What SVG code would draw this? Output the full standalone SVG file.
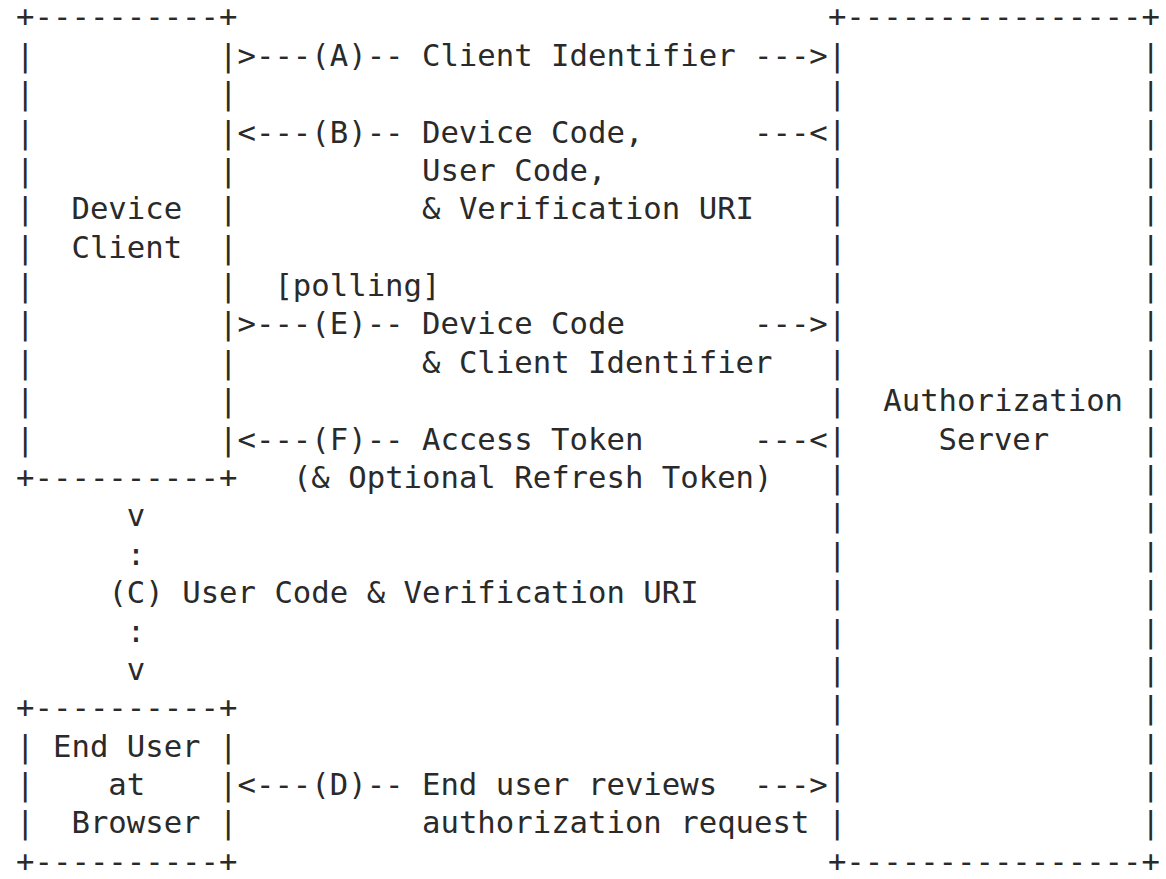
<svg xmlns="http://www.w3.org/2000/svg" width="1166" height="879" viewBox="0 0 1166 879" xml:space="preserve">
<style>
text{font-family:"DejaVu Sans Mono","Liberation Mono",monospace;font-size:30.65px;fill:#2a2a2a;white-space:pre}
</style>
<rect x="0" y="0" width="1166" height="879" fill="#ffffff"/>
<g id="device-client">
<text x="16.1" y="27.4">+----------+</text>
<text x="16.1" y="65.8">|          |</text>
<text x="16.1" y="104.2">|          |</text>
<text x="16.1" y="142.5">|          |</text>
<text x="16.1" y="180.9">|          |</text>
<text x="16.1" y="219.3">|  Device  |</text>
<text x="16.1" y="257.7">|  Client  |</text>
<text x="16.1" y="296.1">|          |</text>
<text x="16.1" y="334.4">|          |</text>
<text x="16.1" y="372.8">|          |</text>
<text x="16.1" y="411.2">|          |</text>
<text x="16.1" y="449.6">|          |</text>
<text x="16.1" y="488.0">+----------+</text>
</g>
<g id="authorization-server">
<text x="827.9" y="27.4">+----------------+</text>
<text x="827.9" y="65.8">|                |</text>
<text x="827.9" y="104.2">|                |</text>
<text x="827.9" y="142.5">|                |</text>
<text x="827.9" y="180.9">|                |</text>
<text x="827.9" y="219.3">|                |</text>
<text x="827.9" y="257.7">|                |</text>
<text x="827.9" y="296.1">|                |</text>
<text x="827.9" y="334.4">|                |</text>
<text x="827.9" y="372.8">|                |</text>
<text x="827.9" y="411.2">|  Authorization |</text>
<text x="827.9" y="449.6">|     Server     |</text>
<text x="827.9" y="488.0">|                |</text>
<text x="827.9" y="526.3">|                |</text>
<text x="827.9" y="564.7">|                |</text>
<text x="827.9" y="603.1">|                |</text>
<text x="827.9" y="641.5">|                |</text>
<text x="827.9" y="679.9">|                |</text>
<text x="827.9" y="718.2">|                |</text>
<text x="827.9" y="756.6">|                |</text>
<text x="827.9" y="795.0">|                |</text>
<text x="827.9" y="833.4">|                |</text>
<text x="827.9" y="871.8">+----------------+</text>
</g>
<g id="end-user">
<text x="16.1" y="718.2">+----------+</text>
<text x="16.1" y="756.6">| End User |</text>
<text x="16.1" y="795.0">|    at    |</text>
<text x="16.1" y="833.4">|  Browser |</text>
<text x="16.1" y="871.8">+----------+</text>
</g>
<g id="connectors">
<text x="237.5" y="65.8">&gt;---(A)-- Client Identifier ---&gt;</text>
<text x="237.5" y="142.5">&lt;---(B)-- Device Code,      ---&lt;</text>
<text x="422.0" y="180.9">User Code,</text>
<text x="422.0" y="219.3">&amp; Verification URI</text>
<text x="274.4" y="296.1">[polling]</text>
<text x="237.5" y="334.4">&gt;---(E)-- Device Code       ---&gt;</text>
<text x="422.0" y="372.8">&amp; Client Identifier</text>
<text x="237.5" y="449.6">&lt;---(F)-- Access Token      ---&lt;</text>
<text x="292.9" y="488.0">(&amp; Optional Refresh Token)</text>
<text x="126.8" y="526.3">v</text>
<text x="126.8" y="564.7">:</text>
<text x="108.4" y="603.1">(C) User Code &amp; Verification URI</text>
<text x="126.8" y="641.5">:</text>
<text x="126.8" y="679.9">v</text>
<text x="237.5" y="795.0">&lt;---(D)-- End user reviews  ---&gt;</text>
<text x="422.0" y="833.4">authorization request</text>
</g>
</svg>
